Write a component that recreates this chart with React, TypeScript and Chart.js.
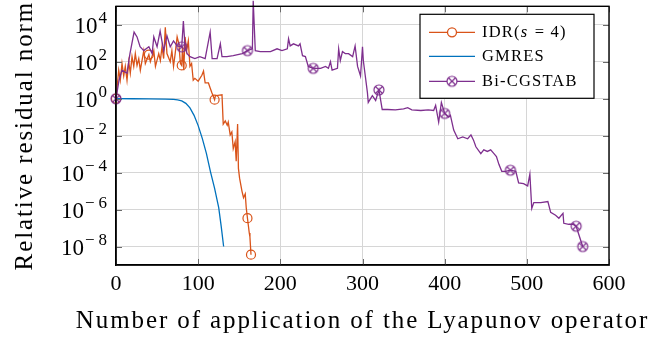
import React, { useEffect, useRef } from "react";
import { Chart, registerables } from "chart.js";

Chart.register(...registerables);

// ---------------- data ----------------
const idrX = [0, 3.3, 5.2, 7.3, 9.4, 11.3, 13.4, 15.5, 17.4, 19.5, 21.6, 23.5, 25.6, 27.7, 29.6, 33.8, 35.7, 40, 41.8, 46, 48, 52, 54, 56, 58, 60, 62, 66, 68, 70, 72, 74.4, 76.5, 78.4, 80, 81, 82.5, 84, 86, 88, 90, 92, 94, 96, 100, 104.5, 106.5, 108.5, 112.5, 114.6, 116.7, 120, 121, 129, 130.5, 133, 135.4, 136.6, 139, 141, 142.7, 145, 146.3, 148, 149, 150.4, 153.3, 155.2, 157.3, 158.5, 160, 162.2, 163, 164.3];
const idrY = [1, 35, 10, 80, 17, 56, 10, 100, 24, 190, 56, 275, 63, 148, 35, 400, 80, 245, 100, 400, 56, 275, 117, 645, 148, 7400, 275, 100, 400, 56, 275, 2200, 930, 80, 63, 645, 35, 2200, 400, 1350, 56, 80, 10, 12.6, 8.9, 18.6, 31, 7.1, 7.1, 3.8, 2.1, 0.89, 1.45, 1.62, 0.042, 0.063, 0.037, 0.054, 0.011, 0.016, 0.002, 0.0047, 4.1e-4, 0.042, 1.7e-4, 5e-5, 1.0e-5, 4.4e-6, 7.1e-6, 1.26e-6, 3.4e-7, 5.4e-8, 3.3e-8, 3.6e-9];
const idrMarkX = [0, 40, 80, 120, 160, 164.3];

const gmresX = [0, 20, 40, 60, 70, 75, 80, 85, 90, 95, 100, 105, 110, 115, 120, 125, 128, 131];
const gmresY = [1, 0.99, 0.98, 0.955, 0.92, 0.87, 0.76, 0.56, 0.316, 0.126, 0.035, 0.0071, 0.0011, 1.1e-4, 1.4e-5, 1.26e-6, 1.26e-7, 1e-8];

const bicgX = [0, 3.7, 7.3, 13.4, 17, 22, 25.6, 29.3, 33.8, 40, 44, 46, 50, 53.7, 58, 62, 66, 70, 74.4, 80, 82, 84, 86.6, 90, 96, 102, 108.5, 114.6, 117, 123, 127, 129, 135, 142.7, 153.7, 160, 166, 167, 169.5, 175.6, 188, 196, 202, 208.5, 210, 212, 216, 222, 224, 227, 230.5, 234, 240, 249, 255, 258.5, 261, 263, 269.5, 271, 273, 275.6, 279, 283, 288, 291, 294, 297.6, 300, 301, 306, 307, 312, 316, 320, 324, 330.5, 340, 350, 355, 360, 371, 380, 386.6, 389, 392.7, 396, 400, 405, 407, 411, 416, 422, 428, 432, 435, 438, 444, 447.6, 452, 456, 460, 463, 466, 469.5, 474, 480, 486.6, 490, 496, 501, 503.7, 506, 508.5, 517, 525.6, 529, 535, 539, 544, 545, 551, 556, 560, 568];
const bicgY = [1, 10, 35, 24, 275, 4000, 2200, 645, 400, 645, 275, 2200, 645, 4600, 400, 2500, 645, 1350, 720, 645, 16000, 645, 275, 190, 148, 190, 148, 4000, 148, 148, 930, 190, 190, 214, 275, 400, 500, 2e5, 400, 355, 355, 500, 400, 500, 1740, 720, 930, 720, 930, 214, 190, 56, 44, 44, 56, 44, 100, 35, 44, 500, 117, 355, 275, 275, 190, 720, 56, 17, 645, 117, 2.1, 0.63, 1.45, 0.8, 3.0, 0.26, 0.26, 0.25, 0.28, 0.33, 0.25, 0.23, 0.25, 0.23, 0.43, 0.054, 0.62, 0.16, 0.1, 0.126, 0.02, 0.0068, 0.0085, 0.0068, 0.011, 0.0059, 0.0025, 0.00107, 0.0017, 0.0014, 0.0017, 0.00107, 7.4e-4, 2.8e-4, 1.17e-4, 1.17e-4, 1.35e-4, 1.17e-4, 2.75e-5, 2.5e-5, 1.9e-5, 8.3e-5, 1.15e-6, 2.4e-6, 2.4e-6, 2.7e-6, 7.1e-7, 4.9e-7, 3.4e-7, 6.3e-7, 1.8e-7, 1.6e-7, 1.6e-7, 1.26e-7, 1e-8];
const bicgMarkX = [0, 80, 160, 240, 320, 400, 480, 560, 568];

const xTickValues = [0, 100, 200, 300, 400, 500, 600];
const yTickExponents = [-8, -6, -4, -2, 0, 2, 4];
const seriesNames = ["IDR(s = 4)", "GMRES", "Bi-CGSTAB"];
const xTitle = "Number of application of the Lyapunov operator";
const yTitle = "Relative residual norm";

// ---------------- styles ----------------
const ORANGE = "#D95319";
const BLUE = "#0072BD";
const PURPLE = "#7E2F8E";
const GRID = "#d6d6d6";
const SERIF = "Liberation Serif";

function makeOtimes(color: string): HTMLCanvasElement {
  const c = document.createElement("canvas");
  c.width = 14;
  c.height = 14;
  const g = c.getContext("2d")!;
  g.strokeStyle = color;
  g.lineWidth = 1.2;
  g.beginPath();
  g.arc(7, 7, 5, 0, Math.PI * 2);
  g.stroke();
  const d = 5 / Math.SQRT2;
  g.beginPath();
  g.moveTo(7 - d, 7 - d);
  g.lineTo(7 + d, 7 + d);
  g.moveTo(7 + d, 7 - d);
  g.lineTo(7 - d, 7 + d);
  g.stroke();
  return c;
}

function setSpacing(ctx: any, v: string) {
  try {
    ctx.letterSpacing = v;
  } catch (e) {
    /* ignore */
  }
}

const framePlugin = {
  id: "frameAndLegend",
  afterDraw(chart: any) {
    const { ctx, chartArea } = chart;
    const { left, right, top, bottom } = chartArea;
    const xs = chart.scales.x;
    const ys = chart.scales.y;
    ctx.save();
    // inner ticks
    ctx.strokeStyle = "#6a6a6a";
    ctx.lineWidth = 1;
    const tl = 6;
    ctx.beginPath();
    for (const v of xTickValues) {
      const px = Math.round(xs.getPixelForValue(v)) + 0.5;
      ctx.moveTo(px, bottom);
      ctx.lineTo(px, bottom - tl);
      ctx.moveTo(px, top);
      ctx.lineTo(px, top + tl);
    }
    for (const e of yTickExponents) {
      const py = Math.round(ys.getPixelForValue(Math.pow(10, e))) + 0.5;
      ctx.moveTo(left, py);
      ctx.lineTo(left + tl, py);
      ctx.moveTo(right, py);
      ctx.lineTo(right - tl, py);
    }
    ctx.stroke();
    // frame
    ctx.strokeStyle = "#000";
    ctx.lineWidth = 1.4;
    ctx.strokeRect(left, top, right - left, bottom - top);

    // y tick labels: 10 with raised exponent
    ctx.fillStyle = "#000";
    ctx.textBaseline = "alphabetic";
    ctx.textAlign = "left";
    const baseFont = `23px "${SERIF}"`;
    const supFont = `17px "${SERIF}"`;
    for (const e of yTickExponents) {
      const py = ys.getPixelForValue(Math.pow(10, e));
      const neg = e < 0;
      const digits = String(Math.abs(e));
      ctx.font = supFont;
      const wm = neg ? ctx.measureText("\u2212").width + 4 : 0;
      const wd = ctx.measureText(digits).width;
      ctx.font = baseFont;
      const wb = ctx.measureText("10").width;
      const xr = left - 9;
      const x0 = xr - wd - wm - wb - 1;
      ctx.fillText("10", x0, py + 8);
      ctx.font = supFont;
      if (neg) ctx.fillText("\u2212", x0 + wb + 1, py - 2);
      ctx.fillText(digits, x0 + wb + 1 + wm, py - 2);
    }

    // axis titles
    ctx.font = `25px "${SERIF}"`;
    setSpacing(ctx, "1.9px");
    ctx.textAlign = "center";
    ctx.textBaseline = "alphabetic";
    ctx.fillText(xTitle, (left + right) / 2, 328);
    ctx.save();
    ctx.translate(32, (top + bottom) / 2);
    ctx.rotate(-Math.PI / 2);
    ctx.fillText(yTitle, 0, 0);
    ctx.restore();
    setSpacing(ctx, "0px");

    // legend
    const bw = 174;
    const bh = 84;
    const bx = right - 15 - bw;
    const by = top + 8;
    ctx.fillStyle = "#fff";
    ctx.fillRect(bx, by, bw, bh);
    ctx.strokeStyle = "#000";
    ctx.lineWidth = 1.2;
    ctx.strokeRect(bx, by, bw, bh);
    const rows = [18, 42, 67];
    const colors = [ORANGE, BLUE, PURPLE];
    const otimes = makeOtimes(PURPLE);
    for (let i = 0; i < 3; i++) {
      const y = by + rows[i];
      const x0 = bx + 9;
      const x1 = bx + 55;
      ctx.strokeStyle = colors[i];
      ctx.lineWidth = 1.3;
      ctx.beginPath();
      ctx.moveTo(x0, y);
      ctx.lineTo(x1, y);
      ctx.stroke();
      const mx = (x0 + x1) / 2;
      if (i === 0) {
        ctx.fillStyle = "#fff";
        ctx.beginPath();
        ctx.arc(mx, y, 4.5, 0, Math.PI * 2);
        ctx.fill();
        ctx.stroke();
      } else if (i === 2) {
        ctx.fillStyle = "#fff";
        ctx.beginPath();
        ctx.arc(mx, y, 5, 0, Math.PI * 2);
        ctx.fill();
        ctx.drawImage(otimes, mx - 7, y - 7);
      }
      ctx.fillStyle = "#000";
      ctx.textBaseline = "middle";
      ctx.textAlign = "left";
      setSpacing(ctx, "1.2px");
      const tx = bx + 62;
      const fs = 16.5;
      if (i === 0) {
        const name = seriesNames[0];
        const sIdx = name.indexOf("s");
        const a = name.slice(0, sIdx);
        const b = name.slice(sIdx, sIdx + 1);
        const c = name.slice(sIdx + 1);
        ctx.font = `${fs}px "${SERIF}"`;
        ctx.fillText(a, tx, y);
        let w = ctx.measureText(a).width;
        ctx.font = `italic ${fs}px "${SERIF}"`;
        ctx.fillText(b, tx + w, y);
        w += ctx.measureText(b).width + 1;
        ctx.font = `${fs}px "${SERIF}"`;
        ctx.fillText(c, tx + w, y);
      } else {
        ctx.font = `${fs}px "${SERIF}"`;
        ctx.fillText(seriesNames[i], tx, y);
      }
      setSpacing(ctx, "0px");
    }
    ctx.restore();
  },
};

export default function App() {
  const ref = useRef<HTMLCanvasElement | null>(null);
  useEffect(() => {
    if (!ref.current) return;
    const otimes = makeOtimes(PURPLE);
    const idrData = idrX.map((x, i) => ({ x, y: idrY[i] }));
    const gmresData = gmresX.map((x, i) => ({ x, y: gmresY[i] }));
    const bicgData = bicgX.map((x, i) => ({ x, y: bicgY[i] }));
    const chart = new Chart(ref.current, {
      type: "line",
      data: {
        datasets: [
          {
            label: seriesNames[2],
            data: bicgData,
            borderColor: PURPLE,
            borderWidth: 1.3,
            tension: 0,
            order: 0,
            clip: false as any,
            pointRadius: (c: any) => (bicgMarkX.includes(c.raw?.x) ? 5 : 0),
            pointStyle: (c: any) => (bicgMarkX.includes(c.raw?.x) ? otimes : "circle"),
          } as any,
          {
            label: seriesNames[1],
            data: gmresData,
            borderColor: BLUE,
            borderWidth: 1.3,
            tension: 0,
            order: 1,
            pointRadius: 0,
          },
          {
            label: seriesNames[0],
            data: idrData,
            borderColor: ORANGE,
            borderWidth: 1.3,
            tension: 0,
            order: 2,
            clip: false as any,
            pointRadius: (c: any) => (idrMarkX.includes(c.raw?.x) ? 4.5 : 0),
            pointStyle: "circle",
            pointBorderColor: ORANGE,
            pointBorderWidth: 1.2,
            pointBackgroundColor: "rgba(255,255,255,0)",
          } as any,
        ],
      },
      options: {
        animation: false,
        responsive: false,
        devicePixelRatio: 1,
        events: [],
        layout: { padding: { top: 2, right: 43, left: 0, bottom: 0 } },
        plugins: {
          legend: { display: false },
          tooltip: { enabled: false },
        },
        scales: {
          x: {
            type: "linear",
            min: 0,
            max: 600,
            afterBuildTicks: (s: any) => {
              s.ticks = xTickValues.map((v) => ({ value: v }));
            },
            afterFit: (s: any) => {
              s.height = 73;
              s.paddingLeft = 0;
              s.paddingRight = 0;
            },
            ticks: {
              color: "#000",
              font: { family: SERIF, size: 22 },
              padding: 6,
              maxRotation: 0,
              autoSkip: false,
              callback: (v: any) => String(v),
            },
            grid: { color: GRID, lineWidth: 1, drawTicks: false },
            border: { display: true, color: "#000", width: 1.4 },
            title: { display: false, text: xTitle },
          },
          y: {
            type: "logarithmic",
            min: 1e-9,
            max: 1e5,
            afterBuildTicks: (s: any) => {
              s.ticks = yTickExponents.map((e) => ({ value: Math.pow(10, e) }));
            },
            afterFit: (s: any) => {
              s.width = 116;
              s.paddingTop = 0;
              s.paddingBottom = 0;
            },
            ticks: { display: false },
            grid: { color: GRID, lineWidth: 1, drawTicks: false },
            border: { display: true, color: "#000", width: 1.4 },
            title: { display: false, text: yTitle },
          },
        },
      },
      plugins: [framePlugin],
    } as any);
    return () => chart.destroy();
  }, []);
  return (
    <div style={{ position: "fixed", left: 0, top: 0, width: 652, height: 338, background: "#fff" }}>
      <canvas ref={ref} width={652} height={338} style={{ display: "block" }} />
    </div>
  );
}
